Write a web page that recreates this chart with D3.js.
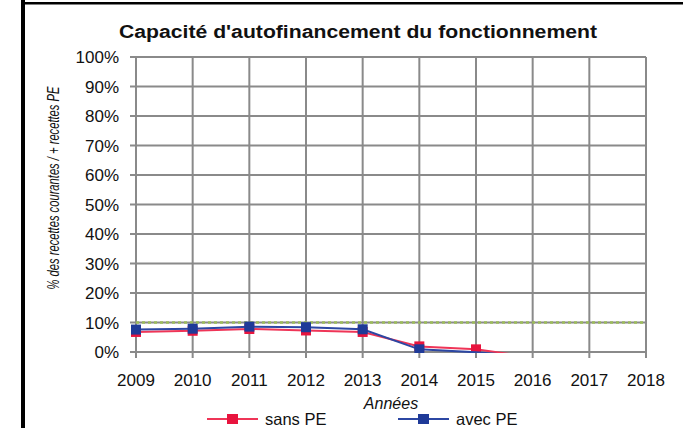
<!DOCTYPE html>
<html>
<head>
<meta charset="utf-8">
<script src="https://cdnjs.cloudflare.com/ajax/libs/d3/7.8.5/d3.min.js"></script>
<style>
  body { margin: 0; background: #fff; }
  svg { display: block; font-family: "Liberation Sans", Arial, sans-serif; }
</style>
</head>
<body>
<div id="chart"></div>
<script>
const width = 683, height = 428;
const margin = { top: 57, right: 37, bottom: 76, left: 136 };

// data (percent)
const years = [2009, 2010, 2011, 2012, 2013, 2014, 2015, 2016];
const sansPE = [6.8, 7.2, 7.8, 7.3, 6.8, 1.9, 0.9, -1.8];
const avecPE = [7.6, 7.9, 8.6, 8.4, 7.7, 0.9, -0.1, -1.6];
const seuil = 10;
const yTicks = [0, 10, 20, 30, 40, 50, 60, 70, 80, 90, 100];
const xTicks = [2009, 2010, 2011, 2012, 2013, 2014, 2015, 2016, 2017, 2018];

const series = [
    { name: "sans PE", values: sansPE, line: "#ef3557", mark: "#e8143e" },
    { name: "avec PE", values: avecPE, line: "#2c47a3", mark: "#1f3a98" }
];

const svg = d3.select("#chart").append("svg")
    .attr("width", width)
    .attr("height", height);

// frame (black top and left edges)
svg.append("rect").attr("x", 21).attr("y", 0).attr("width", 4).attr("height", height).attr("fill", "#000");
svg.append("rect").attr("x", 21).attr("y", 2).attr("width", width - 21).attr("height", 2.5).attr("fill", "#000");

const x = d3.scaleLinear()
    .domain([2009, 2018])
    .range([margin.left, width - margin.right]);
const y = d3.scaleLinear()
    .domain([0, 100])
    .range([height - margin.bottom, margin.top]);

// title
svg.append("text")
    .attr("x", 358).attr("y", 38)
    .attr("text-anchor", "middle")
    .attr("font-weight", "bold")
    .attr("font-size", "17.5px")
    .attr("textLength", 478)
    .attr("lengthAdjust", "spacingAndGlyphs")
    .attr("fill", "#111")
    .text("Capacité d'autofinancement du fonctionnement");

// horizontal grid + y ticks
svg.append("g")
    .selectAll("line")
    .data(yTicks)
    .join("line")
    .attr("x1", x(2009) - 6).attr("x2", x(2018))
    .attr("y1", d => y(d)).attr("y2", d => y(d))
    .attr("stroke", "#8a8a8a").attr("stroke-width", 2);

// vertical grid + x ticks
svg.append("g")
    .selectAll("line")
    .data(xTicks)
    .join("line")
    .attr("x1", d => x(d)).attr("x2", d => x(d))
    .attr("y1", y(100)).attr("y2", y(0) + 6)
    .attr("stroke", "#8a8a8a").attr("stroke-width", 2);

// y labels
svg.append("g")
    .selectAll("text")
    .data(yTicks)
    .join("text")
    .attr("x", x(2009) - 17)
    .attr("y", d => y(d))
    .attr("dy", "0.36em")
    .attr("text-anchor", "end")
    .attr("font-size", "17px")
    .attr("fill", "#111")
    .text(d => d + "%");

// x labels
svg.append("g")
    .selectAll("text")
    .data(xTicks)
    .join("text")
    .attr("x", d => x(d))
    .attr("y", y(0) + 34)
    .attr("text-anchor", "middle")
    .attr("font-size", "17px")
    .attr("fill", "#111")
    .text(d => d);

// axis titles
svg.append("text")
    .attr("x", (x(2009) + x(2018)) / 2)
    .attr("y", 409)
    .attr("text-anchor", "middle")
    .attr("font-style", "italic")
    .attr("font-size", "16px")
    .attr("fill", "#111")
    .text("Années");

// narrow italic label: squeeze horizontally to fit the reference length
const yTitle = svg.append("text")
    .attr("text-anchor", "middle")
    .attr("font-style", "italic")
    .attr("font-size", "16px")
    .attr("fill", "#111")
    .text("% des recettes courantes / + recettes PE");
const natural = yTitle.node().getComputedTextLength();
yTitle.attr("transform", `translate(59,188) rotate(-90) scale(${203 / natural},1)`);

// 10% reference line
svg.append("line")
    .attr("x1", x(2009)).attr("x2", x(2018))
    .attr("y1", y(seuil)).attr("y2", y(seuil))
    .attr("stroke", "#9bbb59").attr("stroke-width", 2.5)
    .attr("stroke-dasharray", "3,3");

// clip to plot area
svg.append("clipPath").attr("id", "plot")
    .append("rect")
    .attr("x", x(2009) - 10).attr("y", y(100) - 10)
    .attr("width", x(2018) - x(2009) + 20)
    .attr("height", y(0) - y(100) + 11);

const line = d3.line()
    .x((d, i) => x(years[i]))
    .y(d => y(d));

const g = svg.append("g").attr("clip-path", "url(#plot)");
series.forEach(s => {
    g.append("path")
        .datum(s.values)
        .attr("fill", "none")
        .attr("stroke", s.line)
        .attr("stroke-width", 2)
        .attr("d", line);
    g.selectAll(null)
        .data(s.values.map((v, i) => ({ v: v, yr: years[i] })).filter(d => d.v >= 0))
        .join("rect")
        .attr("x", d => x(d.yr) - 5)
        .attr("y", d => y(d.v) - 5)
        .attr("width", 10).attr("height", 10)
        .attr("fill", s.mark);
});

// legend
const legend = svg.append("g");
const legendX = [207, 398];
series.forEach((s, i) => {
    const lx = legendX[i];
    legend.append("line")
        .attr("x1", lx).attr("x2", lx + 51)
        .attr("y1", 419).attr("y2", 419)
        .attr("stroke", s.line).attr("stroke-width", 2);
    legend.append("rect")
        .attr("x", lx + 20).attr("y", 414)
        .attr("width", 11).attr("height", 10)
        .attr("fill", s.mark);
    legend.append("text")
        .attr("x", lx + 58).attr("y", 425)
        .attr("font-size", "16.5px")
        .attr("fill", "#111")
        .text(s.name);
});
</script>
</body>
</html>
